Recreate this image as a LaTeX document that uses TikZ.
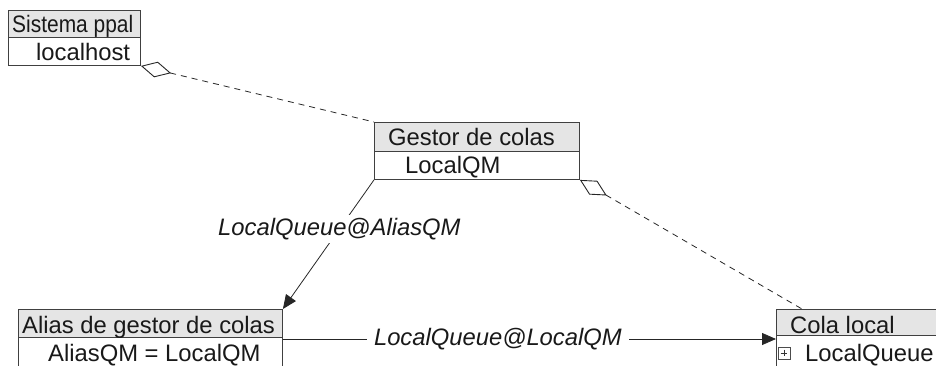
\documentclass[tikz,border=0pt]{standalone}
\usepackage{fontspec}
\setmainfont{Liberation Sans}
\usetikzlibrary{arrows.meta,calc}
\begin{document}
\begin{tikzpicture}[x=1pt,y=-1pt,
  boxline/.style={draw=black!75,line width=0.9pt},
  head/.style={boxline,fill=black!10,inner sep=0pt,anchor=north west},
  body/.style={boxline,fill=white,inner sep=0pt,anchor=north west},
  txt/.style={anchor=base west,inner sep=0pt,font=\fontsize{23.8}{28}\selectfont,text=black!90},
  lbl/.style={font=\fontsize{23.8}{28}\selectfont\itshape,fill=white,text=black!90,inner sep=3pt},
  link/.style={draw=black!85,line width=0.8pt},
  agg/.style={link,dash pattern=on 6pt off 5pt,{Diamond[open,length=31pt,width=16pt,line width=0.9pt]}-},
  nav/.style={link,-{Triangle[length=14pt,width=12pt]}}
]
\useasboundingbox (0,0) rectangle (936,366);
\clip (0,0) rectangle (936,366);

% class boxes: header compartment and attribute compartment
\node[head,minimum width=132pt,minimum height=27pt] (sishead) at (8,10) {};
\node[body,minimum width=132pt,minimum height=28pt] (sisbody) at (8,37) {};

\node[head,minimum width=205pt,minimum height=29pt] (gesthead) at (374,122) {};
\node[body,minimum width=205pt,minimum height=28pt] (gestbody) at (374,151) {};

\node[head,minimum width=264pt,minimum height=28pt] (aliashead) at (18,309) {};
\node[body,minimum width=264pt,minimum height=50pt] (aliasbody) at (18,337) {};

\node[head,minimum width=200pt,minimum height=26pt] (colahead) at (776,309) {};
\node[body,minimum width=200pt,minimum height=50pt] (colabody) at (776,335) {};

% compartment texts
\node[txt] (sisname) at (12,33) {\scalebox{0.88}[1]{Sistema ppal}};
\node[txt] (sisattr) at (36,61) {localhost};
\node[txt] (gestname) at (388,146) {Gestor de colas};
\node[txt] (gestattr) at (405,174) {LocalQM};
\node[txt] (aliasname) at (22,333) {Alias de gestor de colas};
\node[txt] (aliasattr) at (48,361) {AliasQM = LocalQM};
\node[txt] (colaname) at (790,333) {Cola local};
\node[txt] (colaattr) at (805,361) {LocalQueue};

% expand icon in front of the queue attribute
\node[draw=black!70,line width=0.6pt,minimum size=12pt,inner sep=0pt] (plusbox) at (784,353) {};
\draw[black!80,line width=0.6pt] ($(plusbox.west)+(3,0)$) -- ($(plusbox.east)+(-3,0)$);
\draw[black!80,line width=0.6pt] ($(plusbox.north)+(0,3)$) -- ($(plusbox.south)+(0,-3)$);

% aggregations
\coordinate (colatop) at ($(colahead.north west)+(26,0)$);
\draw[agg] (sisbody.south east) -- (gesthead.north west);
\draw[agg] (gestbody.south east) -- (colatop);

% name resolution
\draw[nav] (gestbody.south west) -- node[lbl,pos=0.38] (lblalias) {LocalQueue@AliasQM} (aliashead.north east);
\coordinate (hstart) at ($(aliasbody.north east)+(0,2)$);
\draw[nav] (hstart) -- node[lbl,inner xsep=7pt,pos=0.436] (lbllocal) {LocalQueue@LocalQM} (hstart -| colabody.west);
\end{tikzpicture}
\end{document}
